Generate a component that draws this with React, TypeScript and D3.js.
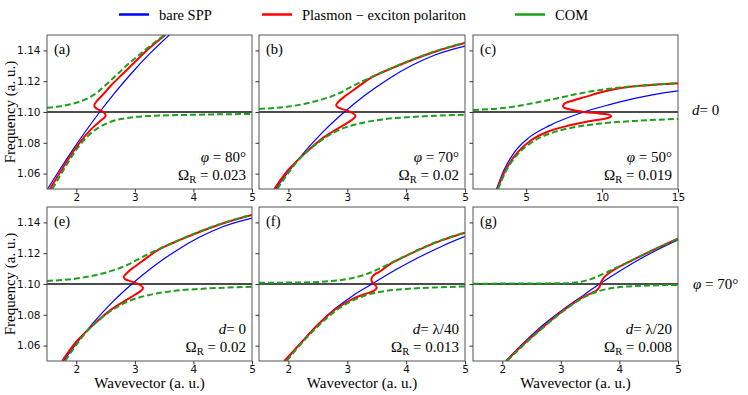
import React, { useEffect, useRef } from "react";
import * as d3 from "d3";

type Pt = [number, number];

// legend + axis ticks
const legendNames = ["bare SPP", "Plasmon \u2212 exciton polariton", "COM"];
const yTicks = [1.06, 1.08, 1.1, 1.12, 1.14];
const kTicks = [2, 3, 4, 5];
const kTicksWide = [5, 10, 15];

// (a) phi = 80, Omega = 0.023
const aBlue: Pt[] = [[1.51, 1.05], [1.7, 1.0615], [1.92, 1.0743], [2.15, 1.087], [2.4, 1.1], [2.65, 1.1121], [2.92, 1.1242], [3.25, 1.1377], [3.6, 1.1504]];
const aRed: Pt[] = [[1.55, 1.05], [1.75, 1.0625], [1.97, 1.0755], [2.15, 1.0845], [2.3, 1.0905], [2.42, 1.0945], [2.5, 1.0972], [2.48, 1.0995], [2.4, 1.1012], [2.32, 1.103], [2.31, 1.1048], [2.36, 1.1075], [2.46, 1.1115], [2.6, 1.1175], [2.8, 1.125], [3.0, 1.1325], [3.25, 1.1415], [3.52, 1.15]];
const aGreenUp: Pt[] = [[1.5, 1.1028], [1.8, 1.1042], [2.0, 1.106], [2.2, 1.109], [2.35, 1.1125], [2.5, 1.1175], [2.7, 1.1245], [2.9, 1.1315], [3.2, 1.141], [3.5, 1.15]];
const aGreenLo: Pt[] = [[1.59, 1.05], [1.8, 1.0635], [2.0, 1.0755], [2.2, 1.0845], [2.4, 1.0903], [2.6, 1.0938], [2.9, 1.0963], [3.3, 1.0975], [4.0, 1.0982], [5.0, 1.0987]];

// (b) and (e) phi = 70, Omega = 0.02, d = 0
const bBlue: Pt[] = [[1.78, 1.05], [2.0, 1.0613], [2.3, 1.0753], [2.6, 1.0876], [2.95, 1.1], [3.3, 1.1109], [3.7, 1.1215], [4.1, 1.1303], [4.5, 1.1372], [5.0, 1.1428]];
const bRed: Pt[] = [[1.76, 1.05], [2.0, 1.0625], [2.3, 1.0738], [2.6, 1.0835], [2.85, 1.0895], [3.0, 1.093], [3.1, 1.0955], [3.14, 1.0975], [3.08, 1.0995], [2.95, 1.1015], [2.84, 1.103], [2.81, 1.1045], [2.86, 1.107], [2.97, 1.1105], [3.15, 1.1155], [3.4, 1.1222], [3.75, 1.1283], [4.1, 1.1338], [4.5, 1.1393], [5.0, 1.1448]];
const bGreenUp: Pt[] = [[1.5, 1.102], [2.0, 1.1035], [2.3, 1.1055], [2.6, 1.1085], [2.85, 1.112], [3.1, 1.117], [3.4, 1.1225], [3.75, 1.1285], [4.1, 1.134], [4.5, 1.1395], [5.0, 1.145]];
const bGreenLo: Pt[] = [[1.81, 1.05], [2.0, 1.0605], [2.2, 1.07], [2.4, 1.077], [2.65, 1.084], [2.9, 1.089], [3.2, 1.0925], [3.6, 1.0952], [4.2, 1.097], [5.0, 1.0982]];

// (c) phi = 50, Omega = 0.019
const cBlue: Pt[] = [[3.05, 1.05], [3.55, 1.0625], [4.2, 1.0735], [5.2, 1.0835], [6.6, 1.0915], [8.8, 1.1], [10.5, 1.1048], [12, 1.1085], [13.5, 1.1115], [15, 1.1137]];
const cRed: Pt[] = [[3.1, 1.05], [3.65, 1.0625], [4.35, 1.0728], [5.3, 1.0815], [6.5, 1.0875], [7.8, 1.0912], [8.9, 1.0935], [9.8, 1.095], [10.4, 1.0961], [10.6, 1.0972], [10.45, 1.0983], [9.8, 1.0991], [8.8, 1.1], [7.9, 1.1016], [7.45, 1.1032], [7.5, 1.1052], [8.1, 1.1075], [8.9, 1.1098], [9.8, 1.1125], [10.8, 1.1148], [12, 1.1165], [13.5, 1.1177], [15, 1.1186]];
const cGreenUp: Pt[] = [[1.5, 1.1013], [3.5, 1.1026], [5.5, 1.1058], [7.0, 1.1088], [8.5, 1.112], [10, 1.1145], [11.5, 1.1162], [13, 1.1175], [15, 1.1186]];
const cGreenLo: Pt[] = [[3.15, 1.05], [3.7, 1.0622], [4.4, 1.072], [5.4, 1.0805], [6.6, 1.0862], [8, 1.0898], [10, 1.0926], [12.5, 1.0944], [15, 1.0955]];

// (f) d = lambda/40, Omega = 0.013
const fBlue: Pt[] = [[1.95, 1.05], [2.2, 1.0612], [2.5, 1.0738], [2.8, 1.0842], [3.1, 1.0926], [3.42, 1.1], [3.8, 1.1087], [4.2, 1.117], [4.6, 1.1244], [5.0, 1.1309]];
const fRed: Pt[] = [[1.93, 1.05], [2.2, 1.0612], [2.5, 1.0735], [2.8, 1.0836], [3.1, 1.0905], [3.3, 1.0935], [3.45, 1.0955], [3.5, 1.0975], [3.47, 1.0995], [3.42, 1.1015], [3.41, 1.1035], [3.45, 1.1058], [3.55, 1.108], [3.75, 1.1135], [4.0, 1.1183], [4.3, 1.1236], [4.6, 1.1283], [5.0, 1.1333]];
const fGreenUp: Pt[] = [[1.5, 1.1008], [2.2, 1.101], [2.7, 1.1018], [3.0, 1.1032], [3.25, 1.1055], [3.5, 1.1092], [3.75, 1.1138], [4.0, 1.1185], [4.3, 1.1238], [4.6, 1.1285], [5.0, 1.1335]];
const fGreenLo: Pt[] = [[1.97, 1.05], [2.2, 1.0605], [2.5, 1.0725], [2.8, 1.0825], [3.05, 1.0885], [3.3, 1.0925], [3.6, 1.0952], [4.0, 1.0968], [4.5, 1.0978], [5.0, 1.0984]];

// (g) d = lambda/20, Omega = 0.008
const gBlue: Pt[] = [[2.06, 1.05], [2.35, 1.0612], [2.7, 1.0735], [3.05, 1.0838], [3.4, 1.0931], [3.66, 1.1], [4.0, 1.1083], [4.3, 1.1151], [4.6, 1.1213], [5.0, 1.1287]];
const gRed: Pt[] = [[2.07, 1.05], [2.37, 1.0612], [2.72, 1.0728], [3.07, 1.0836], [3.4, 1.092], [3.6, 1.0955], [3.66, 1.098], [3.69, 1.1015], [3.75, 1.1048], [3.85, 1.1078], [4.05, 1.1122], [4.3, 1.117], [4.6, 1.1225], [5.0, 1.1295]];
const gGreenUp: Pt[] = [[1.5, 1.1002], [3.0, 1.1005], [3.3, 1.1012], [3.5, 1.103], [3.75, 1.107], [4.0, 1.1115], [4.3, 1.117], [4.6, 1.1225], [5.0, 1.1295]];
const gGreenLo: Pt[] = [[2.08, 1.05], [2.38, 1.061], [2.72, 1.0725], [3.08, 1.0835], [3.4, 1.0915], [3.63, 1.0952], [3.85, 1.0972], [4.1, 1.0983], [4.5, 1.099], [5.0, 1.0994]];

const cols = [[47, 252], [259, 465], [473, 678]];
const rows = [[35, 189], [207, 361]];

const panels = [
  { tag: "(a)", col: 0, row: 0, kMax: 5, ticks: kTicks, blue: aBlue, red: aRed, up: aGreenUp, lo: aGreenLo, top: ["phi", "80°"], omega: "0.023" },
  { tag: "(b)", col: 1, row: 0, kMax: 5, ticks: kTicks, blue: bBlue, red: bRed, up: bGreenUp, lo: bGreenLo, top: ["phi", "70°"], omega: "0.02" },
  { tag: "(c)", col: 2, row: 0, kMax: 15, ticks: kTicksWide, blue: cBlue, red: cRed, up: cGreenUp, lo: cGreenLo, top: ["phi", "50°"], omega: "0.019" },
  { tag: "(e)", col: 0, row: 1, kMax: 5, ticks: kTicks, blue: bBlue, red: bRed, up: bGreenUp, lo: bGreenLo, top: ["d", "0"], omega: "0.02" },
  { tag: "(f)", col: 1, row: 1, kMax: 5, ticks: kTicks, blue: fBlue, red: fRed, up: fGreenUp, lo: fGreenLo, top: ["d", "\u03bb/40"], omega: "0.013" },
  { tag: "(g)", col: 2, row: 1, kMax: 5, ticks: kTicks, blue: gBlue, red: gRed, up: gGreenUp, lo: gGreenLo, top: ["d", "\u03bb/20"], omega: "0.008" },
];

const BLUE = "#0000ff";
const RED = "#ff0000";
const GREEN = "#1ca01c";
const serif = "serif";
const sans = "'DejaVu Sans', sans-serif";

const App = () => {
  const ref = useRef<SVGSVGElement>(null);

  useEffect(() => {
    const svg = d3.select(ref.current);
    svg.selectAll("*").remove();

    // legend
    const legendX = [119, 262, 515];
    const legendColors = [BLUE, RED, GREEN];
    legendNames.forEach((name, i) => {
      svg.append("line")
        .attr("x1", legendX[i]).attr("x2", legendX[i] + 30)
        .attr("y1", 14.5).attr("y2", 14.5)
        .attr("stroke", legendColors[i]).attr("stroke-width", 2.5);
      svg.append("text")
        .attr("x", legendX[i] + 40).attr("y", 19.5)
        .style("font-family", serif).attr("font-size", 14.5)
        .text(name);
    });

    panels.forEach((p, i) => {
      const [x0, x1] = cols[p.col];
      const [y0, y1] = rows[p.row];
      const x = d3.scaleLinear().domain([1.5, p.kMax]).range([x0, x1]);
      const y = d3.scaleLinear().domain([1.05, 1.15]).range([y1, y0]);

      const clipId = `clip-${i}`;
      svg.append("clipPath").attr("id", clipId)
        .append("rect").attr("x", x0).attr("y", y0).attr("width", x1 - x0).attr("height", y1 - y0);

      const plot = svg.append("g").attr("clip-path", `url(#${clipId})`);
      plot.append("line")
        .attr("x1", x0).attr("x2", x1)
        .attr("y1", y(1.1)).attr("y2", y(1.1))
        .attr("stroke", "#111").attr("stroke-width", 1.3);

      // single-valued curves vs the S-shaped polariton branch
      const smooth = d3.line<Pt>().x(d => x(d[0])).y(d => y(d[1])).curve(d3.curveMonotoneX);
      const sCurve = d3.line<Pt>().x(d => x(d[0])).y(d => y(d[1])).curve(d3.curveCatmullRom.alpha(0.5));

      plot.append("path").attr("d", smooth(p.blue)).attr("fill", "none")
        .attr("stroke", BLUE).attr("stroke-width", 1.2);
      plot.append("path").attr("d", sCurve(p.red)).attr("fill", "none")
        .attr("stroke", RED).attr("stroke-width", 2);
      [p.up, p.lo].forEach(arr => {
        plot.append("path").attr("d", smooth(arr)).attr("fill", "none")
          .attr("stroke", GREEN).attr("stroke-width", 2)
          .attr("stroke-dasharray", "6,3");
      });

      // frame
      svg.append("rect")
        .attr("x", x0).attr("y", y0).attr("width", x1 - x0).attr("height", y1 - y0)
        .attr("fill", "none").attr("stroke", "#555").attr("stroke-width", 1);

      // axes
      const yAxis = svg.append("g")
        .attr("transform", `translate(${x0},0)`)
        .call(d3.axisLeft(y).tickValues(yTicks).tickSize(3.5).tickPadding(3)
          .tickFormat(p.col === 0 ? (d3.format(".2f") as any) : () => ""));
      const xAxis = svg.append("g")
        .attr("transform", `translate(0,${y1})`)
        .call(d3.axisBottom(x).tickValues(p.ticks).tickSize(3.5).tickPadding(1.5)
          .tickFormat(d3.format("d") as any));
      [yAxis, xAxis].forEach(ax => {
        ax.select(".domain").remove();
        ax.attr("font-family", sans).attr("font-size", 10.5);
        ax.selectAll("line").attr("stroke", "#333");
        ax.selectAll("text").attr("fill", "#111");
      });

      // panel tag
      svg.append("text")
        .attr("x", x0 + 7).attr("y", y0 + 19)
        .style("font-family", serif).attr("font-size", 14.5)
        .text(p.tag);

      // annotations
      const t1 = svg.append("text")
        .attr("x", x1 - 6).attr("y", y1 - 27)
        .attr("text-anchor", "end")
        .style("font-family", serif).attr("font-size", 15)
        .style("white-space", "pre");
      if (p.top[0] === "phi") {
        t1.append("tspan").attr("font-style", "italic").text("\u03c6");
        t1.append("tspan").text(` = ${p.top[1]}`);
      } else {
        t1.append("tspan").attr("font-style", "italic").text("d");
        t1.append("tspan").text(`= ${p.top[1]}`);
      }
      const t2 = svg.append("text")
        .attr("x", x1 - 6).attr("y", y1 - 9)
        .attr("text-anchor", "end")
        .style("font-family", serif).attr("font-size", 15)
        .style("white-space", "pre");
      t2.append("tspan").text("\u03a9");
      t2.append("tspan").attr("font-size", 10.5).attr("dy", 3).text("R");
      t2.append("tspan").attr("dy", -3).text(` = ${p.omega}`);

      if (p.row === 1) {
        svg.append("text")
          .attr("x", (x0 + x1) / 2).attr("y", 388)
          .attr("text-anchor", "middle")
          .style("font-family", serif).attr("font-size", 15)
          .text("Wavevector (a. u.)");
      }
    });

    // row labels
    rows.forEach(([y0, y1]) => {
      svg.append("text")
        .attr("transform", `translate(15,${(y0 + y1) / 2}) rotate(-90)`)
        .attr("text-anchor", "middle")
        .style("font-family", serif).attr("font-size", 15)
        .text("Frequency (a. u.)");
    });

    const r1 = svg.append("text").attr("x", 692).attr("y", 115)
      .style("font-family", serif).attr("font-size", 15).style("white-space", "pre");
    r1.append("tspan").attr("font-style", "italic").text("d");
    r1.append("tspan").text("= 0");

    const r2 = svg.append("text").attr("x", 693).attr("y", 289)
      .style("font-family", serif).attr("font-size", 15).style("white-space", "pre");
    r2.append("tspan").attr("font-style", "italic").text("\u03c6");
    r2.append("tspan").text(" = 70°");
  }, []);

  return (
    <svg
      ref={ref}
      width={748}
      height={395}
      style={{ position: "absolute", left: 0, top: 0, background: "#fff" }}
    />
  );
};

export default App;
